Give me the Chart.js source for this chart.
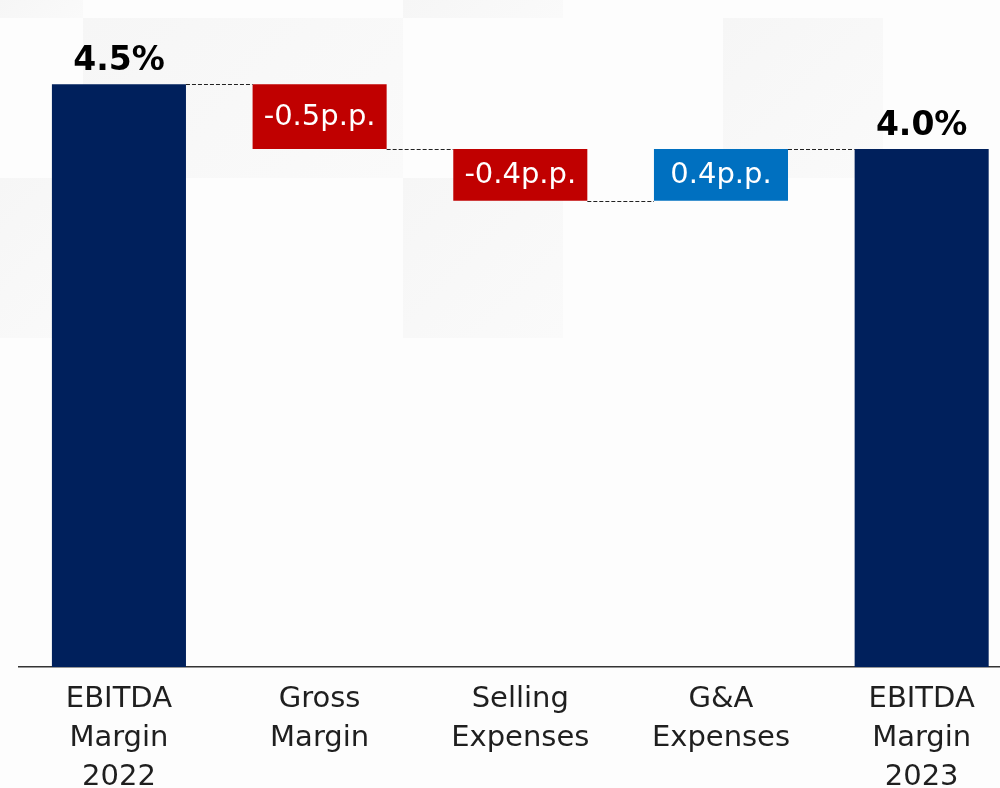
<!DOCTYPE html>
<html>
<head>
<meta charset="utf-8">
<script src="https://cdn.jsdelivr.net/npm/chart.js@4.4.1/dist/chart.umd.min.js"></script>
<style>
  html, body { margin: 0; padding: 0; width: 1000px; height: 788px; overflow: hidden; background: #fdfdfd; }
  .tile { position: absolute; background: linear-gradient(135deg, #f6f6f6, #fafafa); }
  #wrap { position: absolute; left: 0; top: 0; width: 1024px; height: 810px; }
</style>
</head>
<body>
<!-- faint background tiles -->
<div class="tile" style="left:0;top:0;width:83px;height:18px"></div>
<div class="tile" style="left:83px;top:18px;width:320px;height:160px"></div>
<div class="tile" style="left:403px;top:0;width:160px;height:18px"></div>
<div class="tile" style="left:0;top:178px;width:83px;height:160px"></div>
<div class="tile" style="left:403px;top:178px;width:160px;height:160px"></div>
<div class="tile" style="left:723px;top:18px;width:160px;height:160px"></div>
<div id="wrap"><canvas id="waterfall" width="1024" height="810"></canvas></div>
<script>
  // Chart data
  const categories = [
    ['EBITDA', 'Margin', '2022'],
    ['Gross', 'Margin'],
    ['Selling', 'Expenses'],
    ['G&A', 'Expenses'],
    ['EBITDA', 'Margin', '2023']
  ];
  const startMargin = 4.5;
  const deltas = [-0.5, -0.4, 0.4];
  const endMargin = 4.0;

  const navy = '#00205c';
  const red = '#c00000';
  const blue = '#0070c0';

  // build floating ranges for the waterfall
  const ranges = [[0, startMargin]];
  const levels = [startMargin];
  const colors = [navy];
  const labels = [startMargin.toFixed(1) + '%'];
  let level = startMargin;
  deltas.forEach(d => {
    const next = level + d;
    ranges.push([Math.min(level, next), Math.max(level, next)]);
    levels.push(next);
    colors.push(d < 0 ? red : blue);
    labels.push(d.toFixed(1) + 'p.p.');
    level = next;
  });
  ranges.push([0, endMargin]);
  levels.push(endMargin);
  colors.push(navy);
  labels.push(endMargin.toFixed(1) + '%');

  const fontFamily = '"DejaVu Sans", sans-serif';

  const waterfallPlugin = {
    id: 'waterfallLabels',
    afterDatasetsDraw(chart) {
      const ctx = chart.ctx;
      const yScale = chart.scales.y;
      const bars = chart.getDatasetMeta(0).data;
      ctx.save();
      // connectors
      ctx.strokeStyle = '#222';
      ctx.lineWidth = 1;
      ctx.setLineDash([4, 2]);
      for (let i = 0; i < bars.length - 1; i++) {
        const y = Math.round(yScale.getPixelForValue(levels[i])) + 0.5;
        ctx.beginPath();
        ctx.moveTo(bars[i].x + bars[i].width / 2, y);
        ctx.lineTo(bars[i + 1].x - bars[i + 1].width / 2, y);
        ctx.stroke();
      }
      ctx.setLineDash([]);
      // value labels
      ctx.textAlign = 'center';
      bars.forEach((bar, i) => {
        const isTotal = i === 0 || i === bars.length - 1;
        if (isTotal) {
          ctx.font = 'bold 33px ' + fontFamily;
          ctx.fillStyle = '#000';
          ctx.textBaseline = 'alphabetic';
          ctx.fillText(labels[i], bar.x, bar.y - 14);
        } else {
          ctx.font = '29px ' + fontFamily;
          ctx.fillStyle = '#fff';
          ctx.textBaseline = 'middle';
          ctx.fillText(labels[i], bar.x, (bar.y + bar.base) / 2 + 1);
        }
      });
      ctx.restore();
    }
  };

  const ctxWaterfall = document.getElementById('waterfall').getContext('2d');
  const waterfallChart = new Chart(ctxWaterfall, {
    type: 'bar',
    data: {
      labels: categories,
      datasets: [{
        data: ranges,
        backgroundColor: colors,
        borderWidth: 0,
        barPercentage: 0.668,
        categoryPercentage: 1
      }]
    },
    options: {
      responsive: false,
      animation: false,
      layout: { padding: { left: 18.6, right: 2, top: 0, bottom: 0 } },
      plugins: {
        legend: { display: false },
        tooltip: { enabled: false }
      },
      scales: {
        x: {
          grid: { display: false, drawTicks: false },
          border: { display: true, color: '#333', width: 1.5 },
          ticks: {
            color: '#1f1f1f',
            padding: 13,
            maxRotation: 0,
            autoSkip: false,
            font: { family: fontFamily, size: 29, lineHeight: 1.345 }
          }
        },
        y: {
          display: false,
          min: 0,
          max: 5.15
        }
      }
    },
    plugins: [waterfallPlugin]
  });
</script>
</body>
</html>
